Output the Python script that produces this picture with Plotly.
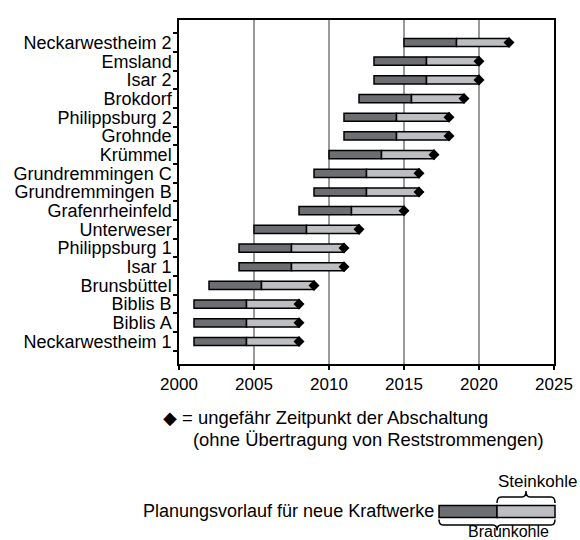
import plotly.graph_objects as go

# ---- data ----
plants = ["Neckarwestheim 2", "Emsland", "Isar 2", "Brokdorf", "Philippsburg 2",
          "Grohnde", "Krümmel", "Grundremmingen C", "Grundremmingen B",
          "Grafenrheinfeld", "Unterweser", "Philippsburg 1", "Isar 1",
          "Brunsbüttel", "Biblis B", "Biblis A", "Neckarwestheim 1"]
shutdown = [2022, 2020, 2020, 2019, 2018, 2018, 2017, 2016, 2016,
            2015, 2012, 2011, 2011, 2009, 2008, 2008, 2008]
lead_braunkohle = 7.0   # Planungsvorlauf Braunkohle-Kraftwerk (Jahre)
lead_steinkohle = 3.5   # Planungsvorlauf Steinkohle-Kraftwerk (Jahre)
x_ticks = [2000, 2005, 2010, 2015, 2020, 2025]

DARK = "#6d6e72"
LIGHT = "#bcbec1"
FONT = "Liberation Sans, Arial, Helvetica, sans-serif"

dark_base = [s - lead_braunkohle for s in shutdown]
dark_len = [lead_braunkohle - lead_steinkohle] * len(shutdown)
light_base = [s - lead_steinkohle for s in shutdown]
light_len = [lead_steinkohle] * len(shutdown)

fig = go.Figure()
fig.add_trace(go.Bar(y=plants, x=dark_len, base=dark_base, orientation="h",
                     marker=dict(color=DARK, line=dict(color="black", width=1.5)),
                     width=0.44, showlegend=False, hoverinfo="skip"))
fig.add_trace(go.Bar(y=plants, x=light_len, base=light_base, orientation="h",
                     marker=dict(color=LIGHT, line=dict(color="black", width=1.5)),
                     width=0.44, showlegend=False, hoverinfo="skip"))
fig.add_trace(go.Scatter(y=plants, x=shutdown, mode="markers",
                         marker=dict(symbol="diamond", size=8.5, color="black",
                                     line=dict(width=0)),
                         showlegend=False, hoverinfo="skip"))

W, H = 580, 540
L, R, T, B = 179, 26, 20, 176
pw, ph = W - L - R, H - T - B


def px(x):
    return (x - L) / pw


def py(y):
    return (H - B - y) / ph


shapes = []
# legend bar (scaled from the lead times)
lx0, ly0, ly1 = 439.0, 505.5, 517.5
scale = 116.0 / lead_braunkohle
lsplit = lx0 + (lead_braunkohle - lead_steinkohle) * scale
lx1 = lx0 + lead_braunkohle * scale
shapes.append(dict(type="rect", xref="paper", yref="paper",
                   x0=px(lx0), x1=px(lsplit), y0=py(ly1), y1=py(ly0),
                   fillcolor=DARK, line=dict(color="black", width=1.5)))
shapes.append(dict(type="rect", xref="paper", yref="paper",
                   x0=px(lsplit), x1=px(lx1), y0=py(ly1), y1=py(ly0),
                   fillcolor=LIGHT, line=dict(color="black", width=1.5)))


def brace(x0, x1, yend, ymid, ytip):
    xm = (x0 + x1) / 2
    r = 4
    pts = [
        f"M{px(x0)},{py(yend)}",
        f"Q{px(x0)},{py(ymid)} {px(x0 + r)},{py(ymid)}",
        f"L{px(xm - r)},{py(ymid)}",
        f"Q{px(xm)},{py(ymid)} {px(xm)},{py(ytip)}",
        f"Q{px(xm)},{py(ymid)} {px(xm + r)},{py(ymid)}",
        f"L{px(x1 - r)},{py(ymid)}",
        f"Q{px(x1)},{py(ymid)} {px(x1)},{py(yend)}",
    ]
    return dict(type="path", xref="paper", yref="paper", path=" ".join(pts),
                line=dict(color="black", width=1.5))


shapes.append(brace(lsplit, lx1, 503, 497, 491))
shapes.append(brace(lx0, lx1, 519.5, 525, 530.5))

LEG = 18.4
annotations = [
    dict(x=px(161), y=py(417), xref="paper", yref="paper", xanchor="left",
         yanchor="middle", showarrow=False,
         text="◆ = ungefähr Zeitpunkt der Abschaltung",
         font=dict(family=FONT, size=LEG, color="black")),
    dict(x=px(191), y=py(439), xref="paper", yref="paper", xanchor="left",
         yanchor="middle", showarrow=False,
         text="(ohne Übertragung von Reststrommengen)",
         font=dict(family=FONT, size=LEG, color="black")),
    dict(x=px(436), y=py(511), xref="paper", yref="paper", xanchor="right",
         yanchor="middle", showarrow=False,
         text="Planungsvorlauf für neue Kraftwerke",
         font=dict(family=FONT, size=18, color="black")),
    dict(x=px(579), y=py(481), xref="paper", yref="paper", xanchor="right",
         yanchor="middle", showarrow=False, text="Steinkohle",
         font=dict(family=FONT, size=17, color="black")),
    dict(x=px(508), y=py(531), xref="paper", yref="paper", xanchor="center",
         yanchor="middle", showarrow=False, text="Braunkohle",
         font=dict(family=FONT, size=16, color="black")),
]

fig.update_layout(
    width=W, height=H,
    margin=dict(l=L, r=R, t=T, b=B, pad=0),
    barmode="overlay",
    plot_bgcolor="white", paper_bgcolor="white",
    font=dict(family=FONT, size=18, color="black"),
    shapes=shapes, annotations=annotations,
    xaxis=dict(range=[2000, 2025], tickmode="array", tickvals=x_ticks,
               ticktext=[str(v) for v in x_ticks],
               showgrid=True, gridcolor="#9a9a9a", gridwidth=1.5,
               showline=True, linecolor="black", linewidth=1.5, mirror=True,
               ticks="outside", ticklen=4, tickcolor="black", tickwidth=1.5,
               zeroline=False, fixedrange=True, automargin=False,
               tickfont=dict(family=FONT, size=17, color="black")),
    yaxis=dict(categoryorder="array", categoryarray=plants, autorange="reversed",
               tickmode="array", tickvals=plants, ticktext=plants,
               showgrid=False, showline=True, linecolor="black", linewidth=1.5,
               mirror=True, ticks="outside", ticklen=4, tickcolor="black",
               tickwidth=1.5, tickson="boundaries", fixedrange=True,
               automargin=False, ticklabelstandoff=2,
               tickfont=dict(family=FONT, size=18, color="black")),
)

fig.write_html("out.html", config={"displayModeBar": False},
               post_script="document.body.style.margin='0';document.body.style.padding='0';")
